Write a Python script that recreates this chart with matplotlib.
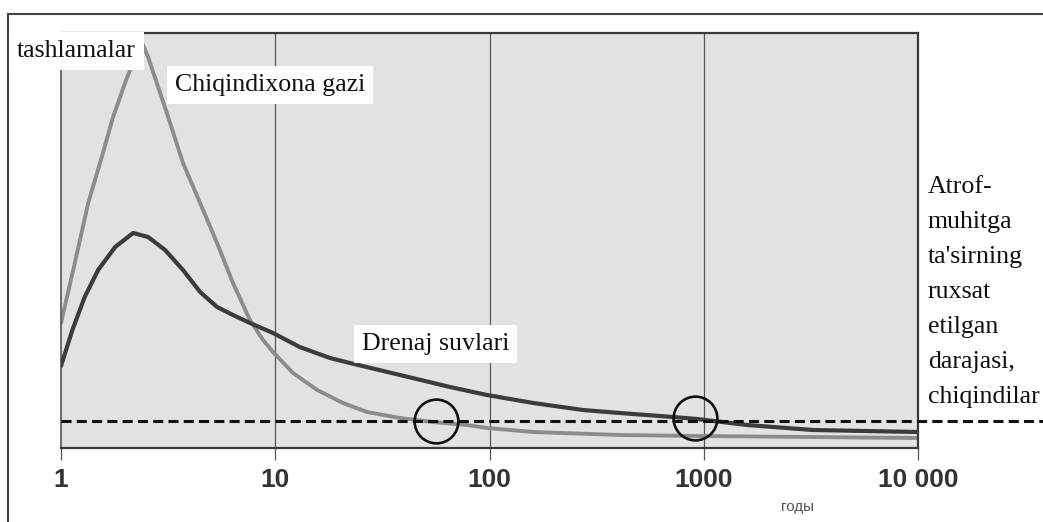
import matplotlib.pyplot as plt
from matplotlib.lines import Line2D
from matplotlib.ticker import NullLocator

# Dane (os x: lata, skala log; os y: jednostki umowne)
gaz_lata = [1, 1.16, 1.34, 1.55, 1.75, 1.99, 2.17, 2.36, 2.55, 3.12, 3.71,
            4.46, 5.35, 6.35, 7.62, 8.77, 9.76, 12.1, 15.7, 20.7, 26.8,
            38.2, 54.5, 78.5, 97.3, 160, 406, 959, 10000]
gaz_wartosci = [125, 185, 245, 291, 331, 365, 386, 408, 391, 335, 285,
                245, 205, 165, 128, 108, 96, 75, 58, 45, 36,
                30, 26, 23, 20, 16, 13, 12, 10]

drenaj_lata = [1, 1.13, 1.29, 1.49, 1.79, 2.17, 2.55, 3.06, 3.71, 4.46,
               5.35, 6.35, 7.62, 9.76, 13.0, 18.0, 22.3, 38.2, 65.4, 97.3,
               160, 273, 406, 719, 930, 1592, 3236, 10000]
drenaj_wartosci = [82, 118, 151, 178, 201, 215, 211, 198, 178, 156,
                   141, 133, 125, 115, 101, 90, 85, 73, 61, 53,
                   45, 38, 35, 31, 29, 23, 18, 16]

poziom_dopuszczalny = 27
kolka_lata = [56, 910]
kolka_wartosci = [27, 30]

ticki = [1, 10, 100, 1000, 10000]
ticki_etykiety = ['1', '10', '100', '1000', '10 000']

W, H = 1043, 522
fig = plt.figure(figsize=(W / 100, H / 100), dpi=100)
fig.patch.set_facecolor('white')

ax = fig.add_axes([61 / W, 1 - 448 / H, (918 - 61) / W, (448 - 33) / H])
ax.set_facecolor('#e1e2e4')
ax.set_xscale('log')
ax.set_xlim(1, 10000)
ax.set_ylim(0, 415)

# Linie siatki pionowe
for xg in [10, 100, 1000]:
    ax.axvline(xg, color='#555555', lw=0.9, zorder=1)

ax.plot(gaz_lata, gaz_wartosci, color='#8c8c8c', lw=2.8,
        solid_capstyle='round', solid_joinstyle='round', zorder=2)
ax.plot(drenaj_lata, drenaj_wartosci, color='#3c3c3c', lw=3.0,
        solid_capstyle='round', solid_joinstyle='round', zorder=3)

# Linia przerywana - wychodzi poza wykres do prawej krawedzi
linia, = ax.plot([1, 38300], [poziom_dopuszczalny] * 2, color='#111111',
                 lw=2.2, clip_on=False, zorder=4)
linia.set_dashes((3.3, 1.7))

ax.plot(kolka_lata, kolka_wartosci, 'o', ms=31.5, mfc='none', mec='#111111',
        mew=1.9, zorder=5, clip_on=False)

# Osie
ax.set_xticks(ticki, ticki_etykiety)
ax.xaxis.set_minor_locator(NullLocator())
ax.set_yticks([])
ax.tick_params(axis='x', length=8.6, width=0.9, color='#555555', pad=5.5,
               labelsize=19, labelcolor='#333333')
for lab in ax.get_xticklabels():
    lab.set_fontfamily('Liberation Sans')
    lab.set_fontweight('bold')
for s in ['top', 'bottom', 'right']:
    ax.spines[s].set_color('#3a3a3a')
    ax.spines[s].set_linewidth(1.6)
ax.spines['left'].set_color('#555555')
ax.spines['left'].set_linewidth(1.2)

# Ramka zewnetrzna
fig.add_artist(Line2D([8 / W, 8 / W], [0, 1 - 14 / H], transform=fig.transFigure,
                      color='#444444', lw=1.5))
fig.add_artist(Line2D([8 / W, 1], [1 - 14 / H, 1 - 14 / H], transform=fig.transFigure,
                      color='#444444', lw=1.5))

# Podpisy
serif = 'Liberation Serif'
fs = 18.6
box = dict(facecolor='white', edgecolor='none', boxstyle='square,pad=0.3')
fig.text(17 / W, 1 - 51 / H, 'tashlamalar', family=serif, fontsize=fs,
         ha='left', va='center', color='#111111', bbox=box, zorder=6)
fig.text(175 / W, 1 - 85 / H, 'Chiqindixona gazi', family=serif, fontsize=fs,
         ha='left', va='center', color='#111111', bbox=box, zorder=6)
fig.text(362 / W, 1 - 344 / H, 'Drenaj suvlari', family=serif, fontsize=fs,
         ha='left', va='center', color='#111111', bbox=box, zorder=6)
fig.text(928 / W, 1 - 176 / H,
         "Atrof-\nmuhitga\nta'sirning\nruxsat\netilgan\ndarajasi,\nchiqindilar",
         family=serif, fontsize=fs, ha='left', va='top', color='#111111',
         linespacing=1.76)
fig.text(797 / W, 1 - 507 / H, 'годы', family='Liberation Sans', fontsize=11,
         ha='center', va='center', color='#555555')

fig.savefig('out.png', dpi=100)
